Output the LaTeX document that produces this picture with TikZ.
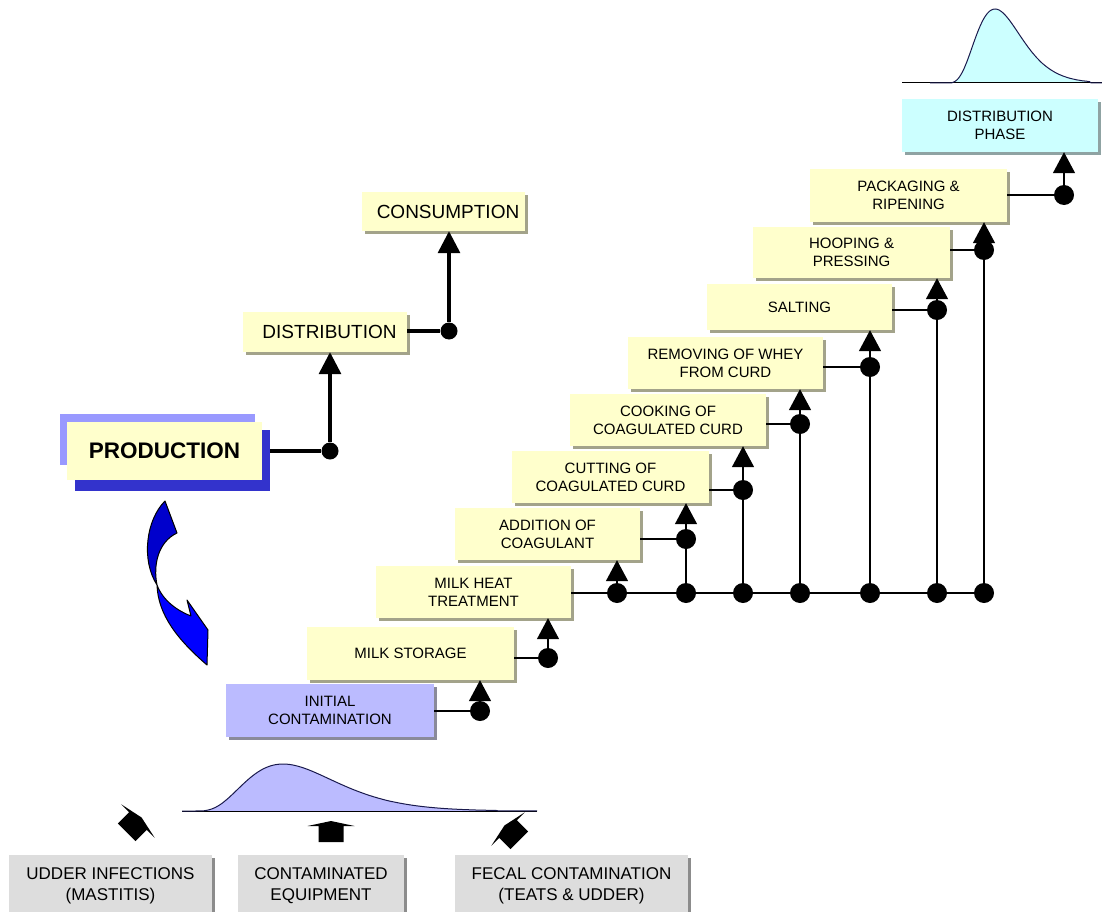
\documentclass[tikz,border=0pt]{standalone}
\usepackage{fontspec}
\setmainfont{Liberation Sans}
\usetikzlibrary{arrows.meta,shadows}

\definecolor{stepfill}{HTML}{FFFFCC}
\definecolor{stepshadow}{HTML}{A3A38A}
\definecolor{initfill}{HTML}{BBBBFF}
\definecolor{initshadow}{HTML}{8A8A9A}
\definecolor{phasefill}{HTML}{CCFFFF}
\definecolor{phaseshadow}{HTML}{8FA3A3}
\definecolor{sourcefill}{HTML}{DDDDDD}
\definecolor{sourceshadow}{HTML}{8C8C8C}
\definecolor{prodback}{HTML}{9999FF}
\definecolor{prodfront}{HTML}{3333CC}
\definecolor{curveline}{HTML}{1A1A4D}
\definecolor{baseline}{HTML}{9999EE}
\definecolor{arrowdark}{HTML}{0000CC}
\definecolor{arrowbright}{HTML}{0000FF}

\begin{document}
\begin{tikzpicture}[x=1pt,y=-1pt,
  plainbox/.style={inner sep=0pt, align=center, text=black, font=\fontsize{15}{18}\selectfont},
  shadowed/.style={drop shadow={shadow xshift=3pt, shadow yshift=-3pt, fill=#1, opacity=1}},
  stepbox/.style={plainbox, fill=stepfill, shadowed=stepshadow},
  sourcebox/.style={plainbox, fill=sourcefill, shadowed=sourceshadow, font=\fontsize{17}{21}\selectfont},
  joint/.style={circle, fill=black, inner sep=0pt, minimum size=20pt},
  bigjoint/.style={circle, fill=black, inner sep=0pt, minimum size=17pt},
  wire/.style={line width=1.6pt},
  wireup/.style={wire, -{Triangle[length=21pt,width=22pt]}},
  heavywire/.style={line width=3.4pt},
  heavyup/.style={heavywire, -{Triangle[length=22pt,width=22pt]}},
  blockarrow/.style={fill=black},
]
\useasboundingbox (0,0) rectangle (1102,912);

% ---------- distribution curves ----------
\fill[phasefill] (902,83) -- (946,83)
  -- plot[domain=946:1102, samples=140] (\x, {83 - 74*pow((\x-945)/50,4.7)*exp(4.7*(1-(\x-945)/50))})
  -- (1102,83) -- cycle;
\draw[baseline, line width=1pt] (902,83) -- (1102,83);
\draw[curveline, line width=1pt] (930,83) -- (946,83)
  -- plot[domain=946:1102, samples=140] (\x, {83 - 74*pow((\x-945)/50,4.7)*exp(4.7*(1-(\x-945)/50))});

\fill[initfill] (182,811) -- (196,811)
  -- plot[domain=196:537, samples=160] (\x, {811 - 47*pow((\x-195)/88,3.7)*exp(3.7*(1-(\x-195)/88))})
  -- (537,811) -- cycle;
\draw[baseline, line width=1pt] (182,811) -- (537,811);
\draw[curveline, line width=1pt] (182,811) -- (196,811)
  -- plot[domain=196:537, samples=160] (\x, {811 - 47*pow((\x-195)/88,3.7)*exp(3.7*(1-(\x-195)/88))});

% ---------- cheese-making steps ----------
\node[plainbox, fill=initfill, shadowed=initshadow, minimum width=208pt, minimum height=53pt] (init) at (330,710.5) {INITIAL\\CONTAMINATION};
\node[stepbox, minimum width=207pt, minimum height=53pt] (storage)   at (410.5,653.5) {MILK STORAGE};
\node[stepbox, minimum width=195pt, minimum height=52pt] (heat)      at (473.5,592)   {MILK HEAT\\TREATMENT};
\node[stepbox, minimum width=185pt, minimum height=52pt] (addition)  at (547.5,534)   {ADDITION OF\\COAGULANT};
\node[stepbox, minimum width=197pt, minimum height=52pt] (cutting)   at (610.5,477)   {CUTTING OF\\COAGULATED CURD};
\node[stepbox, minimum width=196pt, minimum height=52pt] (cooking)   at (668,420)     {COOKING OF\\COAGULATED CURD};
\node[stepbox, minimum width=195pt, minimum height=52pt] (removing)  at (725.5,363)   {REMOVING OF WHEY\\FROM CURD};
\node[stepbox, minimum width=185pt, minimum height=46pt] (salting)   at (799.5,307)   {SALTING};
\node[stepbox, minimum width=197pt, minimum height=51pt] (hooping)   at (851.5,252.5) {HOOPING \&\\PRESSING};
\node[stepbox, minimum width=197pt, minimum height=53pt] (packaging) at (908.5,195.5) {PACKAGING \&\\RIPENING};
\node[plainbox, fill=phasefill, shadowed=phaseshadow, minimum width=196pt, minimum height=53pt] (phase) at (1000,125.5) {DISTRIBUTION\\PHASE};

% joints
\node[joint] (jinit) at (480,711) {};
\node[joint] (jstor) at (548,658) {};
\node[joint] (b1) at (617,593) {};
\node[joint] (b2) at (686,593) {};
\node[joint] (b3) at (743,593) {};
\node[joint] (b4) at (800,593) {};
\node[joint] (b5) at (870,593) {};
\node[joint] (b6) at (937,593) {};
\node[joint] (b7) at (984,593) {};
\node[joint] (jadd)  at (686,539) {};
\node[joint] (jcut)  at (743,490) {};
\node[joint] (jcook) at (800,424) {};
\node[joint] (jrem)  at (870,367) {};
\node[joint] (jsalt) at (937,310) {};
\node[joint] (jhoop) at (984,250) {};
\node[joint] (jpack) at (1064,195) {};

% links out of each step
\draw[wire] (init.east |- jinit) -- (jinit);
\draw[wire] (storage.east |- jstor) -- (jstor);
\draw[wire] (heat.east |- b1) -- (b7);
\draw[wire] (addition.east |- jadd) -- (jadd);
\draw[wire] (cutting.east |- jcut) -- (jcut);
\draw[wire] (cooking.east |- jcook) -- (jcook);
\draw[wire] (removing.east |- jrem) -- (jrem);
\draw[wire] (salting.east |- jsalt) -- (jsalt);
\draw[wire] (hooping.east |- jhoop) -- (jhoop);
\draw[wire] (packaging.east |- jpack) -- (jpack);

% risers from the heat-treatment line
\draw[wire] (b2) -- (jadd);
\draw[wire] (b3) -- (jcut);
\draw[wire] (b4) -- (jcook);
\draw[wire] (b5) -- (jrem);
\draw[wire] (b6) -- (jsalt);
\draw[wire] (b7) -- (jhoop);

% arrows into the next step
\draw[wireup] (jinit) -- (jinit |- storage.south);
\draw[wireup] (jstor) -- (jstor |- heat.south);
\draw[wireup] (b1) -- (b1 |- addition.south);
\draw[wireup] (jadd) -- (jadd |- cutting.south);
\draw[wireup] (jcut) -- (jcut |- cooking.south);
\draw[wireup] (jcook) -- (jcook |- removing.south);
\draw[wireup] (jrem) -- (jrem |- salting.south);
\draw[wireup] (jsalt) -- (jsalt |- hooping.south);
\draw[wireup] (jhoop) -- (jhoop |- packaging.south);
\draw[wireup] (jpack) -- (jpack |- phase.south);

% ---------- production chain ----------
\node[fill=prodback, inner sep=0pt, minimum width=195pt, minimum height=51pt] (prodback) at (157.5,439.5) {};
\node[fill=prodfront, inner sep=0pt, minimum width=195pt, minimum height=61pt] (prodfront) at (172.5,460) {};
\node[plainbox, fill=stepfill, font=\bfseries\fontsize{22.5}{26}\selectfont, minimum width=195pt, minimum height=58pt] (production) at (164.5,451) {PRODUCTION};

\node[stepbox, font=\fontsize{19}{22}\selectfont, minimum width=164pt, minimum height=40pt] (distribution) at (325,332) {\hspace*{9pt}DISTRIBUTION};
\node[stepbox, font=\fontsize{19}{22}\selectfont, minimum width=163pt, minimum height=39pt] (consumption) at (443.5,211.5) {\hspace*{9pt}CONSUMPTION};

\node[bigjoint] (jprod) at (330,451) {};
\node[bigjoint] (jdist) at (449,331) {};
\draw[heavywire] (prodfront.east |- jprod) -- (jprod);
\draw[heavyup] (jprod) -- (jprod |- distribution.south);
\draw[heavywire] (distribution.east |- jdist) -- (jdist);
\draw[heavyup] (jdist) -- (jdist |- consumption.south);

% ---------- twisted blue arrow ----------
\filldraw[fill=arrowdark, draw=black, line width=1pt, line join=round]
  (165,501) .. controls (146,520) and (141,560) .. (157,585)
  .. controls (153,565) and (158,542) .. (177,533) -- cycle;
\filldraw[fill=arrowbright, draw=black, line width=1pt, line join=round]
  (157,585) .. controls (158,615) and (178,640) .. (207,665)
  -- (208,630) -- (187,600) -- (191,616)
  .. controls (178,611) and (163,601) .. (157,585) -- cycle;

% ---------- contamination sources ----------
\node[sourcebox, minimum width=203pt, minimum height=62pt] (udder) at (110.5,886) {UDDER INFECTIONS\\(MASTITIS)};
\node[sourcebox, minimum width=166pt, minimum height=62pt] (equipment) at (321,886) {CONTAMINATED\\EQUIPMENT};
\node[sourcebox, minimum width=233pt, minimum height=62pt] (fecal) at (571.5,886) {FECAL CONTAMINATION\\(TEATS \& UDDER)};

% stubby block arrows pointing at the initial distribution
\begin{scope}[shift={(138,821)}, rotate=-45]
  \fill[blockarrow] (-23.5,0) -- (0,-5) -- (23.5,0) -- (12.5,0) -- (12.5,16) -- (-12.5,16) -- (-12.5,0) -- cycle;
\end{scope}
\begin{scope}[shift={(331,826)}]
  \fill[blockarrow] (-23.5,0) -- (0,-5) -- (23.5,0) -- (12.5,0) -- (12.5,16) -- (-12.5,16) -- (-12.5,0) -- cycle;
\end{scope}
\begin{scope}[shift={(508,829)}, rotate=45]
  \fill[blockarrow] (-23.5,0) -- (0,-5) -- (23.5,0) -- (12.5,0) -- (12.5,16) -- (-12.5,16) -- (-12.5,0) -- cycle;
\end{scope}

\end{tikzpicture}
\end{document}
